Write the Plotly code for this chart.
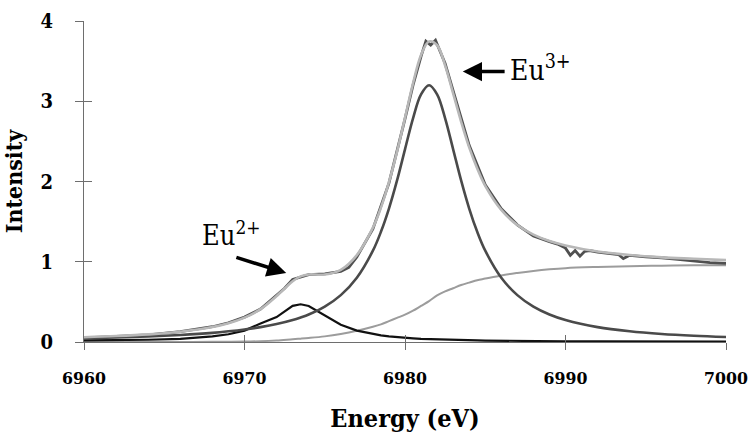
import plotly.graph_objects as go

# ---- data ----
energy = [6960, 6962, 6964, 6966, 6968, 6969, 6970, 6971, 6972, 6973, 6973.5, 6974,
          6975, 6976, 6977, 6978, 6978.5, 6979, 6979.5, 6980, 6980.5, 6981, 6981.5,
          6982, 6982.5, 6983, 6983.5, 6984, 6984.5, 6985, 6986, 6987, 6988, 6989,
          6990, 6992, 6994, 6996, 6998, 7000]

eu3_peak = [0.046, 0.056, 0.069, 0.088, 0.114, 0.133, 0.156, 0.185, 0.223, 0.274, 0.306, 0.343,
            0.441, 0.584, 0.801, 1.138, 1.373, 1.663, 2.010, 2.401, 2.787, 3.086, 3.200,
            3.086, 2.787, 2.401, 2.010, 1.663, 1.373, 1.138, 0.801, 0.584, 0.441, 0.343,
            0.274, 0.185, 0.133, 0.100, 0.078, 0.062]

eu2_peak = [0.020, 0.022, 0.028, 0.040, 0.070, 0.097, 0.142, 0.230, 0.310, 0.450, 0.470, 0.449,
            0.330, 0.215, 0.142, 0.097, 0.082, 0.070, 0.060, 0.052, 0.046, 0.040, 0.036,
            0.032, 0.029, 0.026, 0.024, 0.021, 0.020, 0.018, 0.015, 0.013, 0.012, 0.010,
            0.009, 0.007, 0.006, 0.005, 0.004, 0.004]

edge_step = [0.000, 0.000, 0.000, 0.000, 0.002, 0.003, 0.005, 0.010, 0.020, 0.035, 0.042, 0.050,
             0.070, 0.100, 0.140, 0.190, 0.220, 0.260, 0.300, 0.340, 0.390, 0.450, 0.510,
             0.580, 0.630, 0.670, 0.710, 0.740, 0.770, 0.790, 0.830, 0.860, 0.885, 0.905,
             0.920, 0.935, 0.945, 0.950, 0.955, 0.955]

fit_total = [0.059, 0.074, 0.095, 0.128, 0.186, 0.233, 0.303, 0.410, 0.573, 0.758, 0.818, 0.842,
             0.841, 0.899, 1.083, 1.425, 1.675, 1.993, 2.370, 2.793, 3.223, 3.576, 3.746,
             3.698, 3.446, 3.097, 2.744, 2.425, 2.163, 1.946, 1.646, 1.457, 1.338, 1.258,
             1.203, 1.127, 1.084, 1.055, 1.037, 1.020]

data_energy = [6960, 6962, 6964, 6966, 6968, 6969, 6970, 6971, 6972, 6972.5, 6973, 6973.5,
               6974, 6975, 6976, 6976.5, 6977, 6978, 6979, 6980, 6980.5, 6981, 6981.3,
               6981.6, 6981.9, 6982.5, 6983, 6984, 6985, 6986, 6987, 6988, 6989, 6989.5,
               6990, 6990.3, 6990.6, 6990.9, 6991.2, 6991.5, 6992, 6992.5, 6993, 6993.3,
               6993.6, 6994, 6995, 6996, 6997, 6998, 6999, 7000]
data_intensity = [0.05, 0.07, 0.09, 0.13, 0.19, 0.24, 0.31, 0.41, 0.58, 0.67, 0.78, 0.81,
                  0.84, 0.85, 0.88, 0.93, 1.06, 1.41, 1.98, 2.78, 3.20, 3.56, 3.75,
                  3.70, 3.76, 3.47, 3.12, 2.45, 1.96, 1.66, 1.46, 1.32, 1.25, 1.22,
                  1.17, 1.08, 1.14, 1.07, 1.13, 1.14, 1.12, 1.11, 1.10, 1.09,
                  1.04, 1.08, 1.06, 1.05, 1.03, 1.01, 0.99, 0.98]

x_ticks = [6960, 6970, 6980, 6990, 7000]
y_ticks = [0, 1, 2, 3, 4]

SERIF = "DejaVu Serif Condensed, DejaVu Serif"
AXIS_GRAY = "#6e6e6e"

fig = go.Figure()
fig.add_trace(go.Scatter(x=energy, y=edge_step, mode="lines", line_shape="spline",
                         line=dict(color="#9c9c9c", width=2), showlegend=False))
fig.add_trace(go.Scatter(x=energy, y=eu2_peak, mode="lines",
                         line=dict(color="#111111", width=2.2), showlegend=False))
fig.add_trace(go.Scatter(x=energy, y=eu3_peak, mode="lines", line_shape="spline",
                         line=dict(color="#4a4a4a", width=2.6), showlegend=False))
fig.add_trace(go.Scatter(x=data_energy, y=data_intensity, mode="lines",
                         line=dict(color="#505050", width=2.8), showlegend=False))
fig.add_trace(go.Scatter(x=energy, y=fit_total, mode="lines", line_shape="spline",
                         line=dict(color="#b8b8b8", width=2.6), showlegend=False))

axis_common = dict(showgrid=False, zeroline=False, mirror=False, automargin=False)

fig.update_layout(
    width=751, height=437,
    margin=dict(l=84, r=25, t=21, b=95),
    paper_bgcolor="white", plot_bgcolor="white",
    font=dict(family=SERIF, color="black"),
    xaxis=dict(range=[6960, 7000], tickvals=x_ticks, ticks="outside", ticklen=7,
               tickcolor=AXIS_GRAY, showline=True, linecolor=AXIS_GRAY, linewidth=1,
               tickfont=dict(family=SERIF, size=17.5, weight="bold", color="black"),
               ticklabelstandoff=13, ticklabeloverflow="allow",
               title=dict(text="Energy (eV)", standoff=22,
                          font=dict(family=SERIF, size=25, weight="bold", color="black")),
               **axis_common),
    yaxis=dict(range=[0, 4], tickvals=y_ticks, ticks="outside", ticklen=8,
               tickcolor=AXIS_GRAY, showline=True, linecolor=AXIS_GRAY, linewidth=1,
               tickfont=dict(family=SERIF, size=20, weight="bold", color="black"),
               ticklabelstandoff=18, ticklabeloverflow="allow",
               title=dict(text="Intensity", standoff=14,
                          font=dict(family=SERIF, size=23, weight="bold", color="black")),
               **axis_common),
    xaxis2=dict(range=[6960, 7000], tickvals=x_ticks, ticks="inside", ticklen=7,
                tickcolor=AXIS_GRAY, showticklabels=False, overlaying="x",
                anchor="y", side="bottom", showline=False, **axis_common),
    yaxis2=dict(range=[0, 4], tickvals=y_ticks, ticks="inside", ticklen=8,
                tickcolor=AXIS_GRAY, showticklabels=False, overlaying="y",
                anchor="x", side="left", showline=False, **axis_common),
)

fig.add_trace(go.Scatter(x=[None], y=[None], xaxis="x2", yaxis="y2",
                         showlegend=False, hoverinfo="skip"))

fig.add_annotation(x=6986.4, y=3.41, xref="x", yref="y", text="Eu<sup>3+</sup>",
                   showarrow=False, xanchor="left", yanchor="middle",
                   font=dict(family=SERIF, size=28, color="black"))
fig.add_annotation(x=6983.6, y=3.37, ax=6986.3, ay=3.37, xref="x", yref="y",
                   axref="x", ayref="y", text="", showarrow=True, arrowhead=2,
                   arrowsize=1.1, arrowwidth=3.5, arrowcolor="black")
fig.add_annotation(x=6967.2, y=1.35, xref="x", yref="y", text="Eu<sup>2+</sup>",
                   showarrow=False, xanchor="left", yanchor="middle",
                   font=dict(family=SERIF, size=27, color="black"))
fig.add_annotation(x=6972.6, y=0.86, ax=6969.4, ay=1.06, xref="x", yref="y",
                   axref="x", ayref="y", text="", showarrow=True, arrowhead=2,
                   arrowsize=1.1, arrowwidth=3.5, arrowcolor="black")

fig.write_html("out.html")
